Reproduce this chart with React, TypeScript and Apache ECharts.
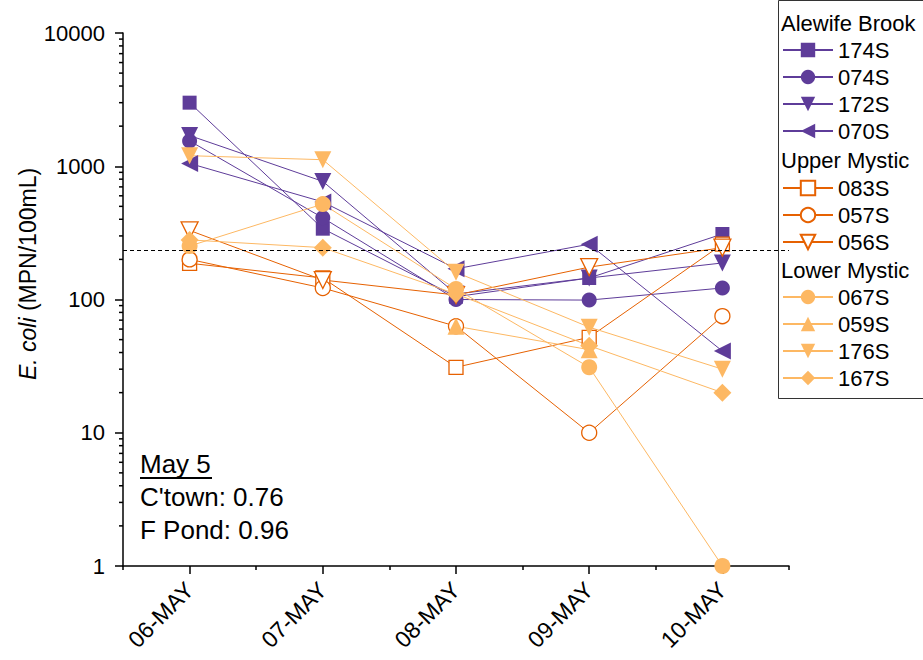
import React, { useEffect, useRef } from "react";
import * as echarts from "echarts";

const dates = ["06-MAY", "07-MAY", "08-MAY", "09-MAY", "10-MAY"];
const yTickValues = [1, 10, 100, 1000, 10000];
const minorTickValues = [2, 3, 4, 5, 6, 7, 8, 9, 20, 30, 40, 50, 60, 70, 80, 90, 200, 300, 400, 500, 600, 700, 800, 900, 2000, 3000, 4000, 5000, 6000, 7000, 8000, 9000];
const standardLine = 235;

const s174S = [3000, 340, 105, 145, 310];
const s074S = [1550, 410, 100, 99, 122];
const s172S = [1700, 770, 110, 145, 188];
const s070S = [1050, 540, 170, 260, 41];
const s083S = [187, 145, 31, 52, 260];
const s057S = [200, 122, 63, 10, 75];
const s056S = [330, 140, 108, 175, 245];
const s067S = [252, 520, 120, 31, 1];
const s059S = [null, null, 63, 42, null];
const s176S = [1200, 1120, 160, 62, 30];
const s167S = [280, 245, 110, 45, 20];

const groupAlewife = ["174S", "074S", "172S", "070S"];
const groupUpper = ["083S", "057S", "056S"];
const groupLower = ["067S", "059S", "176S", "167S"];
const groupTitles = ["Alewife Brook", "Upper Mystic", "Lower Mystic"];
const annotationLines = ["May 5", "C'town: 0.76", "F Pond: 0.96"];

const PURPLE = "#5e3c99";
const DORANGE = "#e66101";
const LORANGE = "#fdb863";
const FONT = "Liberation Sans, Arial, sans-serif";

export default function App() {
  const ref = useRef<HTMLDivElement>(null);
  useEffect(() => {
    document.body.style.margin = "0";
    const chart = echarts.init(ref.current!, undefined, { renderer: "svg" });

    const mk = (name: string, data: any[], color: string, symbol: string, size: number, rotate: number, hollow: boolean) => ({
      name,
      type: "line",
      data,
      symbol,
      symbolSize: size,
      symbolRotate: rotate,
      showSymbol: true,
      connectNulls: false,
      lineStyle: { color, width: 1 },
      itemStyle: hollow
        ? { color: "#ffffff", borderColor: color, borderWidth: 1.3 }
        : { color, borderColor: color, borderWidth: 0 },
      emphasis: { disabled: true },
      z: 3,
    });

    const series: any[] = [
      mk("174S", s174S, PURPLE, "rect", 14, 0, false),
      mk("074S", s074S, PURPLE, "circle", 15, 0, false),
      mk("172S", s172S, PURPLE, "triangle", 17, 180, false),
      mk("070S", s070S, PURPLE, "triangle", 17, 90, false),
      mk("083S", s083S, DORANGE, "rect", 14, 0, true),
      mk("057S", s057S, DORANGE, "circle", 15, 0, true),
      mk("056S", s056S, DORANGE, "triangle", 17, 180, true),
      mk("067S", s067S, LORANGE, "circle", 16, 0, false),
      mk("059S", s059S, LORANGE, "triangle", 17, 0, false),
      mk("176S", s176S, LORANGE, "triangle", 17, 180, false),
      mk("167S", s167S, LORANGE, "diamond", 18, 0, false),
    ];
    series[0].markLine = {
      silent: true,
      symbol: ["none", "none"],
      label: { show: false },
      lineStyle: { color: "#000", width: 1, type: [4, 3] },
      data: [{ yAxis: standardLine }],
    };
    series.push({
      type: "custom",
      silent: true,
      xAxisIndex: 0,
      yAxisIndex: 0,
      data: minorTickValues.map((v) => [0, v]),
      renderItem: (params: any, api: any) => {
        const p = api.coord([api.value(0), api.value(1)]);
        const x0 = params.coordSys.x;
        return {
          type: "line",
          shape: { x1: x0 - 4, y1: p[1], x2: x0, y2: p[1] },
          style: { stroke: "#000", lineWidth: 1.5 },
        };
      },
      z: 1,
    });

    const legendCommon = {
      orient: "vertical",
      left: 782,
      padding: 0,
      itemWidth: 50,
      itemHeight: 18,
      itemGap: 5,
      z: 10,
      selectedMode: false,
      textStyle: { fontSize: 22, lineHeight: 22, color: "#000", fontFamily: FONT },
    };

    const option: any = {
      animation: false,
      backgroundColor: "#fff",
      textStyle: { fontFamily: FONT },
      grid: { left: 123, right: 134, top: 33, bottom: 94, containLabel: false },
      legend: [
        { ...legendCommon, top: 39, data: groupAlewife },
        { ...legendCommon, top: 177, data: groupUpper },
        { ...legendCommon, top: 286, data: groupLower },
      ],
      xAxis: [
        {
          type: "category",
          data: dates,
          boundaryGap: true,
          position: "bottom",
          axisLine: { show: true, onZero: false, lineStyle: { color: "#000", width: 1.5 } },
          axisTick: { show: true, alignWithLabel: true, length: 8, lineStyle: { color: "#000", width: 1.5 } },
          axisLabel: { rotate: 45, fontSize: 23, color: "#000", margin: 20, fontFamily: FONT },
          splitLine: { show: false },
        },
        {
          type: "category",
          data: dates,
          boundaryGap: true,
          position: "bottom",
          axisLine: { show: false, onZero: false },
          axisTick: { show: true, alignWithLabel: false, length: 4, lineStyle: { color: "#000", width: 1.5 } },
          axisLabel: { show: false },
          splitLine: { show: false },
        },
      ],
      yAxis: {
        type: "log",
        logBase: 10,
        min: yTickValues[0],
        max: yTickValues[yTickValues.length - 1],
        axisLine: { show: true, onZero: false, lineStyle: { color: "#000", width: 1.5 } },
        axisTick: { show: true, length: 8, lineStyle: { color: "#000", width: 1.5 } },
        axisLabel: {
          fontSize: 22,
          color: "#000",
          margin: 18,
          fontFamily: FONT,
          formatter: (v: number) => String(Math.round(v)),
        },
        splitLine: { show: false },
      },
      graphic: [
        {
          type: "rect",
          z: 5,
          shape: { x: 778.5, y: 0.5, width: 160, height: 398 },
          style: { fill: "#fff", stroke: "#333", lineWidth: 1 },
        },
        { type: "text", z: 11, x: 781, y: 23, style: { text: groupTitles[0], fontSize: 22, fontFamily: FONT, fill: "#000", textVerticalAlign: "middle" } },
        { type: "text", z: 11, x: 781, y: 160, style: { text: groupTitles[1], fontSize: 22, fontFamily: FONT, fill: "#000", textVerticalAlign: "middle" } },
        { type: "text", z: 11, x: 781, y: 270, style: { text: groupTitles[2], fontSize: 22, fontFamily: FONT, fill: "#000", textVerticalAlign: "middle" } },
        {
          type: "text",
          x: 28,
          y: 274,
          rotation: Math.PI / 2,
          style: {
            text: "{i|E. coli} (MPN/100mL)",
            fontSize: 23,
            fontFamily: FONT,
            fill: "#000",
            textAlign: "center",
            textVerticalAlign: "middle",
            rich: { i: { fontStyle: "italic", fontSize: 23, fontFamily: FONT, fill: "#000" } },
          },
        },
        { type: "text", x: 140, y: 464, style: { text: annotationLines[0], fontSize: 26, fontFamily: FONT, fill: "#000", textVerticalAlign: "middle" } },
        { type: "line", shape: { x1: 140, y1: 478, x2: 212, y2: 478 }, style: { stroke: "#000", lineWidth: 2 } },
        { type: "text", x: 140, y: 497, style: { text: annotationLines[1], fontSize: 26, fontFamily: FONT, fill: "#000", textVerticalAlign: "middle" } },
        { type: "text", x: 140, y: 530, style: { text: annotationLines[2], fontSize: 26, fontFamily: FONT, fill: "#000", textVerticalAlign: "middle" } },
      ],
      series,
    };
    chart.setOption(option);
    return () => chart.dispose();
  }, []);
  return <div ref={ref} style={{ width: 923, height: 660 }} />;
}
